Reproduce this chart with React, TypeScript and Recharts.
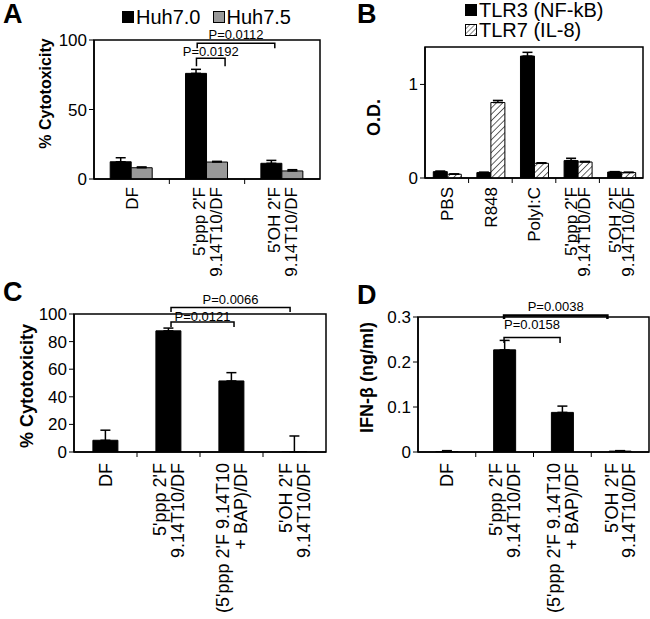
import { BarChart, Bar, XAxis, YAxis, ErrorBar, ReferenceLine, ReferenceArea, Legend } from "recharts";

const FONT = "'Liberation Sans', Arial, sans-serif";

// panel A
const catsA = ["DF", "5'ppp 2'F|9.14T10/DF", "5'OH 2'F|9.14T10/DF"];
const huh70 = [12.4, 76.0, 11.3];
const huh70Err = [2.9, 2.9, 2.1];
const huh75 = [8.1, 12.2, 5.8];
const huh75Err = [0.6, 0.5, 0.9];

// panel B
const catsB = ["PBS", "R848", "PolyI:C", "5'ppp 2'F|9.14T10/DF", "5'OH 2'F|9.14T10/DF"];
const tlr3 = [0.068, 0.058, 1.303, 0.186, 0.064];
const tlr3Err = [0.006, 0.004, 0.04, 0.025, 0.004];
const tlr7 = [0.04, 0.807, 0.157, 0.171, 0.058];
const tlr7Err = [0.004, 0.022, 0.006, 0.006, 0.004];

// panels C and D
const catsCD = ["DF", "5'ppp 2'F|9.14T10/DF", "(5'ppp 2'F 9.14T10|+ BAP)/DF", "5'OH 2'F|9.14T10/DF"];
const cytoC = [8.5, 87.8, 51.5, 0.1];
const cytoCErr = [7.3, 2.0, 6.0, 11.5];
const ifnD = [0.001, 0.227, 0.088, 0.002];
const ifnDErr = [0.002, 0.021, 0.014, 0.001];

// significance brackets: from/to in category units, y in axis units
const bracketsA = [
  { from: 1.36, to: 1.74, y: 86.8, text: "P=0.0192" },
  { from: 1.37, to: 2.4, y: 97.6, text: "P=0.0112" },
];
const bracketsC = [
  { from: 1.54, to: 2.54, y: 94.2, text: "P=0.0121" },
  { from: 1.54, to: 3.43, y: 104.8, text: "P=0.0066" },
];
const bracketsD = [
  { from: 1.49, to: 2.46, y: 0.2545, text: "P=0.0158" },
  { from: 1.49, to: 3.28, y: 0.3036, text: "P=0.0038" },
];

const dataA = catsA.map((c, i) => ({ cat: c, h70: huh70[i], h70e: [0, huh70Err[i]], h75: huh75[i], h75e: [0, huh75Err[i]] }));
const dataB = catsB.map((c, i) => ({ cat: c, t3: tlr3[i], t3e: [0, tlr3Err[i]], t7: tlr7[i], t7e: [0, tlr7Err[i]] }));
const dataC = catsCD.map((c, i) => ({ cat: c, v: cytoC[i], e: [0, cytoCErr[i]] }));
const dataD = catsCD.map((c, i) => ({ cat: c, v: ifnD[i], e: [0, ifnDErr[i]] }));

const CategoryTick = (props: any) => {
  const { x, y, payload, index, size, lineGap, gap } = props;
  const lines = String(payload.value).split("|");
  const half = payload.offset ?? 0;
  const n = lines.length;
  return (
    <g transform={`translate(${x},${y})`}>
      {index > 0 && <line x1={-half} x2={-half} y1={0} y2={5} stroke="#000" />}
      <text transform="rotate(-90)" textAnchor="end" fontSize={size} fontFamily={FONT} fill="#000">
        {lines.map((l, i) => (
          <tspan key={i} x={-gap} y={(i - (n - 1) / 2) * lineGap + size * 0.36}>
            {l}
          </tspan>
        ))}
      </text>
    </g>
  );
};

const yTitle = (text: string, cx: number, shift: number, size: number) => (props: any) => {
  const vb = props.viewBox ?? {};
  const y = (vb.y ?? 0) + (vb.height ?? 0) / 2 + shift;
  return (
    <text x={cx} y={y} transform={`rotate(-90 ${cx} ${y})`} textAnchor="middle" dominantBaseline="central"
      fontSize={size} fontWeight="bold" fontFamily={FONT} fill="#000">
      {text}
    </text>
  );
};

// draws the bracket inside the span of a full-width reference line
const bracketShape = (b: any, n: number, drop: number, lift: number, sw: number) => (p: any) => {
  const left = Math.min(p.x1, p.x2);
  const w = Math.abs(p.x2 - p.x1);
  const xa = left + (w * b.from) / n;
  const xb = left + (w * b.to) / n;
  const y = p.y1;
  return (
    <g>
      <text x={(xa + xb) / 2} y={y - lift} textAnchor="middle" fontSize={13} fontFamily={FONT} fill="#000">
        {b.text}
      </text>
      <path d={`M${xa},${y + drop}V${y}H${xb}V${y + drop}`} fill="none" stroke="#000" strokeWidth={sw} />
    </g>
  );
};

const Panel = (props: any) => {
  const { left, top, width, height, plot, data, n, domain, ticks, title, titleX, titleShift, titleSize,
    labelSize, lineGap, labelGap, catGap, brackets, bracketStyle, legend, children } = props;
  return (
    <div style={{ position: "absolute", left, top }}>
      <BarChart width={width} height={height} data={data} barGap={0} barCategoryGap={catGap}
        margin={{ top: plot.top, right: width - plot.right, left: 0, bottom: 0 }}>
        <defs>
          <pattern id="hatch" patternUnits="userSpaceOnUse" width="4.5" height="4.5" patternTransform="rotate(45)">
            <rect width="4.5" height="4.5" fill="#fff" />
            <line x1="0" y1="0" x2="0" y2="4.5" stroke="#555" strokeWidth="1.8" />
          </pattern>
        </defs>
        <XAxis dataKey="cat" height={height - plot.bottom} interval={0} tickLine={false} tickSize={0} tickMargin={0}
          axisLine={{ stroke: "#000", strokeWidth: 1.5 }}
          tick={(tp: any) => <CategoryTick {...tp} size={labelSize} lineGap={lineGap} gap={labelGap} />} />
        <YAxis width={plot.left} domain={domain} ticks={ticks} allowDataOverflow tickSize={5} tickMargin={2}
          axisLine={{ stroke: "#000", strokeWidth: 1.5 }} tickLine={{ stroke: "#000" }}
          tick={{ fill: "#000", fontSize: 17, fontFamily: FONT }}
          label={yTitle(title, titleX, titleShift, titleSize)} />
        <ReferenceArea y1={domain[0]} y2={domain[1]} fill="none" stroke="#000" strokeWidth={1.5} ifOverflow="visible" />
        {children}
        {brackets.map((b: any, i: number) => (
          <ReferenceLine key={i} y={b.y} ifOverflow="visible"
            shape={bracketShape(b, n, bracketStyle[i].drop, bracketStyle[i].lift, bracketStyle[i].sw)} />
        ))}
        {legend}
      </BarChart>
    </div>
  );
};

const swatch = (fill: string) => (
  <svg width={12} height={12} style={{ display: "block", flex: "none" }}>
    <defs>
      <pattern id="hatchLeg" patternUnits="userSpaceOnUse" width="3.5" height="3.5" patternTransform="rotate(45)">
        <rect width="3.5" height="3.5" fill="#fff" />
        <line x1="0" y1="0" x2="0" y2="3.5" stroke="#555" strokeWidth="1.4" />
      </pattern>
    </defs>
    <rect x={0.5} y={0.5} width={11} height={11} fill={fill} stroke="#000" />
  </svg>
);

const legendItem = (fill: string, text: string, before = 0) => (
  <div style={{ display: "flex", alignItems: "center", paddingLeft: before, whiteSpace: "nowrap" }}>
    {swatch(fill)}
    <span style={{ marginLeft: 2 }}>{text}</span>
  </div>
);

const Letter = ({ ch, left, top }: any) => (
  <div style={{ position: "absolute", left, top, fontSize: 27, fontWeight: "bold", lineHeight: 1, fontFamily: FONT }}>{ch}</div>
);

const App = () => {
  return (
    <div style={{ position: "absolute", left: 0, top: 0, width: 650, height: 619, background: "#fff", fontFamily: FONT, overflow: "hidden" }}>
      <Panel left={0} top={0} width={325} height={300} plot={{ left: 94, right: 320, top: 40, bottom: 179 }}
        data={dataA} n={3} domain={[0, 100]} ticks={[0, 50, 100]} title="% Cytotoxicity" titleX={45} titleShift={-16}
        titleSize={16} labelSize={17} lineGap={17} labelGap={8} catGap="21.5%" brackets={bracketsA}
        bracketStyle={[{ drop: 8, lift: 2, sw: 1.5 }, { drop: 5, lift: 4, sw: 1.5 }]}
        legend={
          <Legend layout="horizontal" verticalAlign="middle" align="center"
            wrapperStyle={{ top: 5, left: 122, width: 200 }}
            content={() => (
              <div style={{ display: "flex", fontSize: 20, lineHeight: "24px", color: "#000" }}>
                {legendItem("#000", "Huh7.0")}
                {legendItem("#999", "Huh7.5", 12)}
              </div>
            )} />
        }>
        <Bar dataKey="h70" fill="#000" stroke="#000" isAnimationActive={false}>
          <ErrorBar dataKey="h70e" width={5} stroke="#000" direction="y" />
        </Bar>
        <Bar dataKey="h75" fill="#999" stroke="#000" isAnimationActive={false}>
          <ErrorBar dataKey="h75e" width={5} stroke="#000" direction="y" />
        </Bar>
      </Panel>

      <Panel left={325} top={0} width={325} height={300} plot={{ left: 100, right: 318, top: 47, bottom: 178 }}
        data={dataB} n={5} domain={[0, 1.4]} ticks={[0, 1]} title="O.D." titleX={49} titleShift={5}
        titleSize={18} labelSize={17} lineGap={13} labelGap={9} catGap="19%" brackets={[]} bracketStyle={[]}
        legend={
          <Legend layout="horizontal" verticalAlign="middle" align="center"
            wrapperStyle={{ top: 0, left: 140, width: 185 }}
            content={() => (
              <div style={{ fontSize: 20, lineHeight: "20px", color: "#000" }}>
                {legendItem("#000", "TLR3 (NF-kB)")}
                {legendItem("url(#hatchLeg)", "TLR7 (IL-8)")}
              </div>
            )} />
        }>
        <Bar dataKey="t3" fill="#000" stroke="#000" isAnimationActive={false}>
          <ErrorBar dataKey="t3e" width={5} stroke="#000" direction="y" />
        </Bar>
        <Bar dataKey="t7" fill="url(#hatch)" stroke="#000" isAnimationActive={false}>
          <ErrorBar dataKey="t7e" width={5} stroke="#000" direction="y" />
        </Bar>
      </Panel>

      <Panel left={0} top={290} width={328} height={329} plot={{ left: 74, right: 326, top: 24, bottom: 162 }}
        data={dataC} n={4} domain={[0, 100]} ticks={[0, 20, 40, 60, 80, 100]} title="% Cytotoxicity" titleX={27}
        titleShift={3} titleSize={18} labelSize={18} lineGap={17.5} labelGap={11} catGap="30%" brackets={bracketsC}
        bracketStyle={[{ drop: 5, lift: 1, sw: 1.5 }, { drop: 4.5, lift: 3, sw: 1.5 }]}>
        <Bar dataKey="v" fill="#000" stroke="#000" isAnimationActive={false}>
          <ErrorBar dataKey="e" width={5} stroke="#000" direction="y" />
        </Bar>
      </Panel>

      <Panel left={325} top={290} width={325} height={329} plot={{ left: 93, right: 324, top: 27, bottom: 162 }}
        data={dataD} n={4} domain={[0, 0.3]} ticks={[0, 0.1, 0.2, 0.3]} title="IFN-β (ng/ml)" titleX={42}
        titleShift={-7} titleSize={18} labelSize={18} lineGap={17.5} labelGap={11} catGap="31%" brackets={bracketsD}
        bracketStyle={[{ drop: 5.5, lift: 8, sw: 1.5 }, { drop: 3.5, lift: 4, sw: 2.5 }]}>
        <Bar dataKey="v" fill="#000" stroke="#000" isAnimationActive={false}>
          <ErrorBar dataKey="e" width={5} stroke="#000" direction="y" />
        </Bar>
      </Panel>

      <Letter ch="A" left={3} top={1} />
      <Letter ch="B" left={357} top={1} />
      <Letter ch="C" left={3} top={279} />
      <Letter ch="D" left={357} top={282} />
    </div>
  );
};

export default App;
